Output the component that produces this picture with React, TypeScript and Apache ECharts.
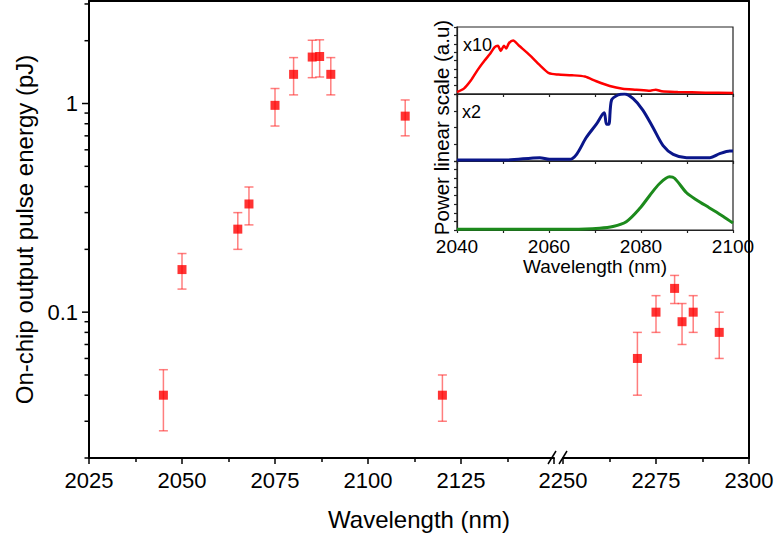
import React, { useEffect, useRef } from 'react';
import * as echarts from 'echarts';

// ---------- main chart data ----------
const leftWavelengths = [2045, 2050, 2065, 2068, 2075, 2080, 2085, 2087, 2090, 2110, 2120];
const leftEnergy = [0.04, 0.16, 0.25, 0.33, 0.98, 1.38, 1.67, 1.68, 1.38, 0.87, 0.04];
const leftError = [0.013, 0.031, 0.05, 0.068, 0.2, 0.28, 0.34, 0.34, 0.28, 0.17, 0.01];

const rightWavelengths = [2270, 2275, 2280, 2282, 2285, 2292];
const rightEnergy = [0.06, 0.1, 0.13, 0.09, 0.1, 0.08];
const rightError = [0.02, 0.02, 0.02, 0.02, 0.02, 0.02];

const leftTickLabels = [2025, 2050, 2075, 2100, 2125];
const rightTickLabels = [2250, 2275, 2300];
const yMajorTicks = [0.1, 1];
const yMinorTicks = [0.02, 0.03, 0.04, 0.05, 0.06, 0.07, 0.08, 0.09, 0.2, 0.3, 0.4, 0.5, 0.6, 0.7, 0.8, 0.9, 2, 3];

// ---------- inset spectra ----------
const insetTickLabels = [2040, 2060, 2080, 2100];

const redWl = [2040, 2041.5, 2043, 2044.5, 2046, 2047.2, 2048.2, 2048.9, 2049.5, 2050.2, 2050.7, 2051.3, 2052.2, 2053.5, 2055.8, 2058, 2060, 2062, 2065, 2067.8, 2070.3, 2073.2, 2076, 2079, 2082, 2083.2, 2084.5, 2088, 2094, 2100];
const redVal = [0.03, 0.08, 0.2, 0.36, 0.5, 0.6, 0.7, 0.72, 0.64, 0.72, 0.68, 0.76, 0.8, 0.72, 0.58, 0.43, 0.31, 0.29, 0.28, 0.26, 0.19, 0.12, 0.08, 0.065, 0.05, 0.065, 0.04, 0.03, 0.02, 0.015];

const blueWl = [2040, 2050.7, 2058, 2060.1, 2064.5, 2066, 2068.1, 2070.3, 2072, 2072.5, 2073, 2073.6, 2075, 2076.4, 2078.3, 2080.4, 2082.6, 2084.8, 2087, 2089.9, 2093.5, 2095, 2097.1, 2099.3, 2100];
const blueVal = [0.015, 0.015, 0.05, 0.025, 0.025, 0.1, 0.35, 0.55, 0.72, 0.55, 0.55, 0.91, 0.985, 1.0, 0.93, 0.76, 0.5, 0.23, 0.1, 0.05, 0.05, 0.05, 0.11, 0.15, 0.15];

const greenWl = [2040, 2065.2, 2071, 2073.9, 2076.8, 2079.7, 2081.9, 2084, 2086.2, 2087.3, 2089.9, 2092, 2094.9, 2097.8, 2100];
const greenVal = [0.01, 0.01, 0.025, 0.05, 0.12, 0.31, 0.5, 0.67, 0.77, 0.75, 0.54, 0.44, 0.32, 0.2, 0.1];

const FONT = '"Liberation Sans", Arial, Helvetica, sans-serif';
const ERR = 'rgba(255,40,40,0.6)';

function errorBarRender(params: any, api: any) {
  const x = api.value(0);
  const lo = api.value(1);
  const hi = api.value(2);
  const top = api.coord([x, hi]);
  const bot = api.coord([x, lo]);
  const hw = 4.5;
  const style = { stroke: ERR, lineWidth: 1.5 };
  return {
    type: 'group',
    children: [
      { type: 'line', shape: { x1: top[0], y1: top[1], x2: bot[0], y2: bot[1] }, style },
      { type: 'line', shape: { x1: top[0] - hw, y1: top[1], x2: top[0] + hw, y2: top[1] }, style },
      { type: 'line', shape: { x1: bot[0] - hw, y1: bot[1], x2: bot[0] + hw, y2: bot[1] }, style },
    ],
  };
}

function yTickRender(params: any, api: any) {
  const p = api.coord([api.value(0), api.value(1)]);
  const len = api.value(2) ? 7 : 4.5;
  return {
    type: 'line',
    shape: { x1: p[0] - len, y1: p[1], x2: p[0], y2: p[1] },
    style: { stroke: '#000', lineWidth: 1.5 },
  };
}

export default function App() {
  const ref = useRef<HTMLDivElement>(null);

  useEffect(() => {
    if (!ref.current) return;
    const chart = echarts.init(ref.current, undefined, { renderer: 'svg' });

    const mainAxisLine = { show: true, lineStyle: { color: '#000', width: 2 } };
    const mainLabel = (allowed: number[]) => ({
      fontSize: 22,
      color: '#000',
      fontFamily: FONT,
      margin: 11,
      formatter: (v: number) => (allowed.indexOf(v) >= 0 ? String(v) : ''),
    });
    const mainXCommon = {
      type: 'value',
      position: 'bottom',
      interval: 25,
      axisLine: mainAxisLine,
      axisTick: { show: true, length: 6, inside: false, lineStyle: { color: '#000', width: 1.5 } },
      minorTick: { show: true, splitNumber: 2, length: 4, lineStyle: { color: '#000', width: 1.5 } },
      splitLine: { show: false },
      minorSplitLine: { show: false },
    };
    const topAxis = (gridIndex: number, min: number, max: number) => ({
      type: 'value',
      gridIndex,
      position: 'top',
      min,
      max,
      axisLine: mainAxisLine,
      axisTick: { show: false },
      axisLabel: { show: false },
      splitLine: { show: false },
    });
    const insetBorder = { show: true, borderColor: '#222', borderWidth: 1.2, backgroundColor: '#fff' };
    const insetX = (gridIndex: number, showLabels: boolean) => ({
      type: 'value',
      gridIndex,
      min: 2040,
      max: 2100,
      interval: 10,
      axisLine: { show: true, lineStyle: { color: '#222', width: 1.2 } },
      axisTick: { show: true, length: 3, lineStyle: { color: '#222', width: 1.2 } },
      axisLabel: {
        show: showLabels,
        fontSize: 19,
        color: '#000',
        fontFamily: FONT,
        margin: 7,
        formatter: (v: number) => (insetTickLabels.indexOf(v) >= 0 ? String(v) : ''),
      },
      splitLine: { show: false },
      ...(showLabels
        ? {
            name: 'Wavelength (nm)',
            nameLocation: 'middle',
            nameGap: 25,
            nameTextStyle: { fontSize: 19, color: '#000', fontFamily: FONT },
          }
        : {}),
    });
    const insetY = (gridIndex: number, interval: number, withName: boolean) => ({
      type: 'value',
      gridIndex,
      min: 0,
      max: 1,
      interval,
      axisLine: { show: true, lineStyle: { color: '#222', width: 1.2 } },
      axisTick: { show: true, length: 3, lineStyle: { color: '#222', width: 1.2 } },
      axisLabel: { show: false },
      splitLine: { show: false },
      ...(withName
        ? {
            name: 'Power linear scale (a.u)',
            nameLocation: 'middle',
            nameGap: 5,
            nameRotate: 90,
            nameTextStyle: { fontSize: 20.5, color: '#000', fontFamily: FONT },
          }
        : {}),
    });

    const option: any = {
      animation: false,
      backgroundColor: '#fff',
      textStyle: { fontFamily: FONT },
      grid: [
        { left: 89, top: 1, width: 465, height: 457 },
        { left: 563, top: 1, width: 186, height: 457 },
        { left: 457, top: 27, width: 276, height: 67, ...insetBorder },
        { left: 457, top: 94, width: 276, height: 67, ...insetBorder },
        { left: 457, top: 161, width: 276, height: 69, ...insetBorder },
      ],
      xAxis: [
        { ...mainXCommon, gridIndex: 0, min: 2025, max: 2150, axisLabel: mainLabel(leftTickLabels) },
        { ...mainXCommon, gridIndex: 1, min: 2250, max: 2300, axisLabel: mainLabel(rightTickLabels) },
        topAxis(0, 2025, 2150),
        topAxis(1, 2250, 2300),
        insetX(2, false),
        insetX(3, false),
        insetX(4, true),
      ],
      yAxis: [
        {
          type: 'log',
          logBase: 10,
          gridIndex: 0,
          min: 0.02,
          max: 3.1,
          axisLine: mainAxisLine,
          axisTick: { show: false },
          splitLine: { show: false },
          axisLabel: {
            fontSize: 22,
            color: '#000',
            fontFamily: FONT,
            margin: 11,
            formatter: (v: number) => {
              for (const t of yMajorTicks) {
                if (Math.abs(v - t) / t < 1e-6) return String(t);
              }
              return '';
            },
          },
          name: 'On-chip output pulse energy (pJ)',
          nameLocation: 'middle',
          nameGap: 53,
          nameRotate: 90,
          nameTextStyle: { fontSize: 24, color: '#000', fontFamily: FONT },
        },
        {
          type: 'log',
          logBase: 10,
          gridIndex: 1,
          min: 0.02,
          max: 3.1,
          position: 'right',
          axisLine: mainAxisLine,
          axisTick: { show: false },
          axisLabel: { show: false },
          splitLine: { show: false },
        },
        insetY(2, 0.125, false),
        insetY(3, 0.25, true),
        insetY(4, 0.125, false),
      ],
      series: [
        {
          type: 'custom',
          xAxisIndex: 0,
          yAxisIndex: 0,
          renderItem: errorBarRender,
          encode: { x: 0, y: [1, 2] },
          data: leftWavelengths.map((w, i) => [w, leftEnergy[i] - leftError[i], leftEnergy[i] + leftError[i]]),
          z: 3,
          silent: true,
        },
        {
          type: 'scatter',
          xAxisIndex: 0,
          yAxisIndex: 0,
          symbol: 'rect',
          symbolSize: 9,
          itemStyle: { color: '#ff0000' },
          data: leftWavelengths.map((w, i) => [w, leftEnergy[i]]),
          z: 4,
        },
        {
          type: 'custom',
          xAxisIndex: 1,
          yAxisIndex: 1,
          renderItem: errorBarRender,
          encode: { x: 0, y: [1, 2] },
          data: rightWavelengths.map((w, i) => [w, rightEnergy[i] - rightError[i], rightEnergy[i] + rightError[i]]),
          z: 3,
          silent: true,
        },
        {
          type: 'scatter',
          xAxisIndex: 1,
          yAxisIndex: 1,
          symbol: 'rect',
          symbolSize: 9,
          itemStyle: { color: '#ff0000' },
          data: rightWavelengths.map((w, i) => [w, rightEnergy[i]]),
          z: 4,
        },
        {
          type: 'custom',
          xAxisIndex: 0,
          yAxisIndex: 0,
          renderItem: yTickRender,
          encode: { x: 0, y: 1 },
          clip: false,
          silent: true,
          data: [
            ...yMajorTicks.map((v) => [2025, v, 1]),
            ...yMinorTicks.map((v) => [2025, v, 0]),
          ],
          z: 5,
        },
        {
          type: 'line',
          xAxisIndex: 4,
          yAxisIndex: 2,
          showSymbol: false,
          symbol: 'none',
          smooth: 0.25,
          lineStyle: { color: '#ff0000', width: 2.5 },
          data: redWl.map((w, i) => [w, redVal[i]]),
          z: 6,
        },
        {
          type: 'line',
          xAxisIndex: 5,
          yAxisIndex: 3,
          showSymbol: false,
          symbol: 'none',
          smooth: 0.3,
          lineStyle: { color: '#0a168a', width: 3 },
          data: blueWl.map((w, i) => [w, blueVal[i]]),
          z: 6,
        },
        {
          type: 'line',
          xAxisIndex: 6,
          yAxisIndex: 4,
          showSymbol: false,
          symbol: 'none',
          smooth: 0.3,
          lineStyle: { color: '#1c8a1c', width: 3 },
          data: greenWl.map((w, i) => [w, greenVal[i]]),
          z: 6,
        },
      ],
      graphic: [
        {
          type: 'text',
          x: 419,
          y: 519,
          style: { text: 'Wavelength (nm)', fontSize: 24, fontFamily: FONT, fill: '#000', textAlign: 'center', textVerticalAlign: 'middle' },
        },
        {
          type: 'text',
          x: 463,
          y: 45,
          z: 100,
          style: { text: 'x10', fontSize: 18, fontFamily: FONT, fill: '#000', textAlign: 'left', textVerticalAlign: 'middle' },
        },
        {
          type: 'text',
          x: 462,
          y: 112,
          z: 100,
          style: { text: 'x2', fontSize: 18, fontFamily: FONT, fill: '#000', textAlign: 'left', textVerticalAlign: 'middle' },
        },
        { type: 'line', shape: { x1: 553, y1: 1, x2: 564, y2: 1 }, style: { stroke: '#000', lineWidth: 2 } },
        { type: 'line', shape: { x1: 548, y1: 464, x2: 556, y2: 451 }, style: { stroke: '#000', lineWidth: 1.5 } },
        { type: 'line', shape: { x1: 559, y1: 464, x2: 567, y2: 451 }, style: { stroke: '#000', lineWidth: 1.5 } },
      ],
    };

    chart.setOption(option);
    return () => chart.dispose();
  }, []);

  return <div ref={ref} style={{ position: 'fixed', left: 0, top: 0, width: 777, height: 535, background: '#fff' }} />;
}
